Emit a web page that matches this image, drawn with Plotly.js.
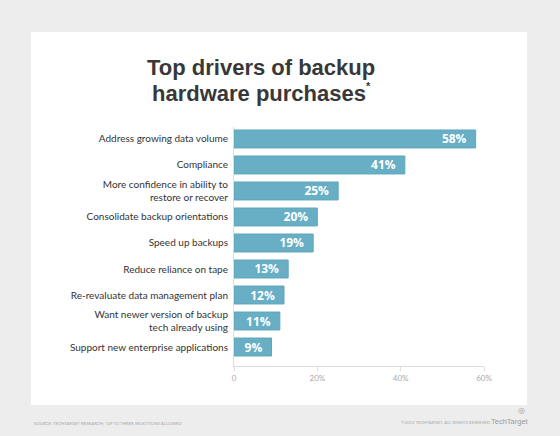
<!DOCTYPE html>
<html>
<head>
<meta charset="utf-8">
<script src="https://cdn.plot.ly/plotly-3.0.1.min.js"></script>
<style>
  html, body { margin: 0; padding: 0; background: #ededed; }
  #chart { width: 560px; height: 436px; }
</style>
</head>
<body>
<div id="chart"></div>
<script>
const categories = [
  "Address growing data volume",
  "Compliance",
  "More confidence in ability to<br>restore or recover",
  "Consolidate backup orientations",
  "Speed up backups",
  "Reduce reliance on tape",
  "Re-revaluate data management plan",
  "Want newer version of backup<br>tech already using",
  "Support new enterprise applications"
];
const values = [58, 41, 25, 20, 19, 13, 12, 11, 9];
const tickVals = [0, 20, 40, 60];
const tickText = ["0", "20%", "40%", "60%"];
const titleLines = ["Top drivers of backup", "hardware purchases"];

const labelFont = "Lato, 'Open Sans', sans-serif";
const titleFont = "'Liberation Sans', Arial, sans-serif";

// pixel helpers for annotations (plot area: left 234, width 250, top 127, height 239)
const px = x => (x - 234) / 250;
const py = y => (366 - y) / 239;

const trace = {
  type: "bar",
  orientation: "h",
  y: categories,
  x: values,
  width: 0.69,
  marker: { color: "#68afc5", line: { color: "#5fa6bc", width: 1 } },
  text: values.map(v => v + "%\u00a0\u00a0"),
  textposition: "inside",
  insidetextanchor: "end",
  constraintext: "none",
  textfont: { family: "'Open Sans', sans-serif", size: 12, color: "#ffffff", weight: "bold" },
  hoverinfo: "skip",
  cliponaxis: false
};

const layout = {
  width: 560,
  height: 436,
  paper_bgcolor: "#ededed",
  plot_bgcolor: "#ffffff",
  margin: { l: 234, r: 76, t: 127, b: 70, pad: 0 },
  showlegend: false,
  xaxis: {
    range: [0, 60],
    tickvals: tickVals,
    ticktext: tickText,
    showgrid: false,
    zeroline: false,
    showline: true,
    linecolor: "#dddddd",
    linewidth: 1,
    ticks: "outside",
    ticklen: 4,
    tickcolor: "#dddddd",
    tickfont: { family: labelFont, size: 8, color: "#aaaaaa" },
    fixedrange: true
  },
  yaxis: {
    type: "category",
    range: [8.73, -0.46],
    showgrid: false,
    zeroline: false,
    showline: true,
    linecolor: "#dddddd",
    linewidth: 1,
    ticks: "",
    ticklabelstandoff: 3,
    tickfont: { family: labelFont, size: 10, color: "#333333" },
    fixedrange: true
  },
  shapes: [
    { type: "rect", xref: "paper", yref: "paper", layer: "below",
      x0: px(31), x1: px(527), y0: py(405), y1: py(32),
      fillcolor: "#ffffff", line: { width: 0 } }
  ],
  annotations: [
    { xref: "paper", yref: "paper", x: px(261), y: py(67), xanchor: "center", yanchor: "middle",
      text: "<b>" + titleLines[0] + "</b>", showarrow: false,
      font: { family: titleFont, size: 22, color: "#383838" } },
    { xref: "paper", yref: "paper", x: px(259), y: py(93), xanchor: "center", yanchor: "middle",
      text: "<b>" + titleLines[1] + "</b>", showarrow: false,
      font: { family: titleFont, size: 22, color: "#383838" } },
    { xref: "paper", yref: "paper", x: px(364), y: py(86), xanchor: "left", yanchor: "middle",
      text: "<b>*</b>", showarrow: false,
      font: { family: titleFont, size: 11, color: "#383838" } },
    { xref: "paper", yref: "paper", x: px(32), y: py(423), xanchor: "left", yanchor: "middle",
      text: "SOURCE: TECHTARGET RESEARCH; *UP TO THREE SELECTIONS ALLOWED", showarrow: false,
      font: { family: labelFont, size: 4.3, color: "#a8a8a8" } },
    { xref: "paper", yref: "paper", x: px(493), y: py(422), xanchor: "right", yanchor: "middle",
      text: "©2015 TECHTARGET. ALL RIGHTS RESERVED", showarrow: false,
      font: { family: labelFont, size: 4.3, color: "#a8a8a8" } },
    { xref: "paper", yref: "paper", x: px(531), y: py(421), xanchor: "right", yanchor: "middle",
      text: "TechTarget", showarrow: false,
      font: { family: "'Liberation Sans Narrow', 'Liberation Sans', sans-serif", size: 7.5, color: "#9a9a9a" } },
    { xref: "paper", yref: "paper", x: px(521), y: py(410), xanchor: "center", yanchor: "middle",
      text: "◎", showarrow: false,
      font: { family: "DejaVu Sans", size: 8, color: "#9a9a9a" } }
  ]
};

Plotly.newPlot("chart", [trace], layout, { displayModeBar: false, staticPlot: true });
</script>
</body>
</html>
